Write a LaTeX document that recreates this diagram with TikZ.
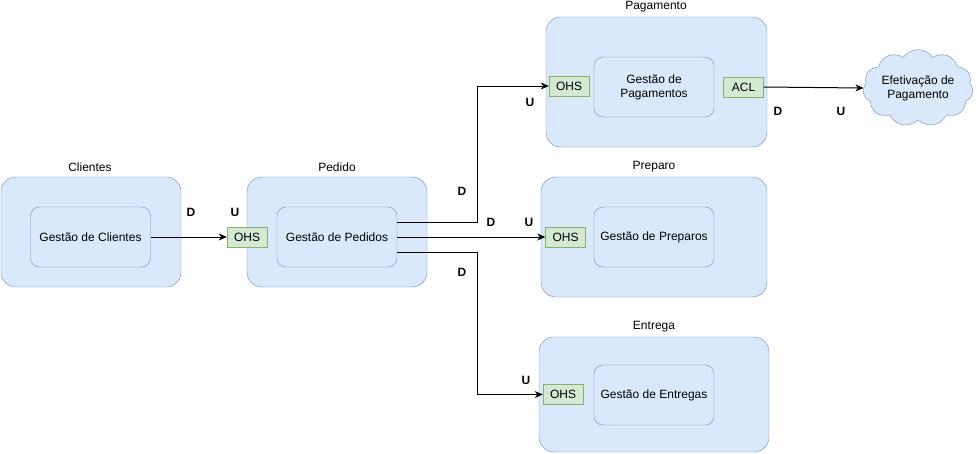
\documentclass[tikz,border=0pt]{standalone}
\usepackage{fontspec}
\setmainfont{Liberation Sans}
\usetikzlibrary{arrows.meta,shapes.symbols}
\definecolor{azulfundo}{HTML}{DAE8FC}
\definecolor{azulborda}{HTML}{6C8EBF}
\definecolor{verdefundo}{HTML}{D5E8D4}
\definecolor{verdeborda}{HTML}{82B366}
\tikzset{
	contexto/.style={draw=azulborda,fill=azulfundo,rounded corners=15pt,inner sep=0pt},
	modulo/.style={draw=azulborda,fill=azulfundo,rounded corners=9pt,inner sep=0pt,minimum width=120pt,minimum height=60pt,align=center,font=\fontsize{12}{14}\selectfont},
	padrao/.style={draw=verdeborda,fill=verdefundo,inner sep=0pt,minimum width=40pt,minimum height=20pt,font=\fontsize{12}{14}\selectfont},
	nuvem/.style={cloud,cloud puffs=11,cloud puff arc=110,aspect=1.6,draw=azulborda,fill=azulfundo,inner sep=0pt,minimum width=110pt,minimum height=70pt,align=center,font=\fontsize{12}{14}\selectfont},
	titulo/.style={font=\fontsize{12}{14}\selectfont,inner sep=0pt},
	rotulo/.style={font=\fontsize{12}{14}\selectfont\bfseries,inner sep=0pt},
	liga/.style={draw,line width=1pt,-{Stealth[length=8pt,width=7pt,inset=2.5pt]}}
}
\begin{document}
\begin{tikzpicture}[x=1pt,y=-1pt]
				\useasboundingbox (0,0) rectangle (977,453);
				\coordinate (CCli) at (91,232);
				\coordinate (CPed) at (337,232);
				\coordinate (CPag) at (656.5,82);
				\coordinate (CPre) at (654,237);
				\coordinate (CEnt) at (654,394.5);

				\node (cli) at (CCli)[contexto,minimum width=180pt,minimum height=110pt]{};
				\node (ped) at (CPed)[contexto,minimum width=180pt,minimum height=110pt]{};
				\node (pag) at (CPag)[contexto,minimum width=221pt,minimum height=130pt]{};
				\node (pre) at (CPre)[contexto,minimum width=226pt,minimum height=120pt]{};
				\node (ent) at (CEnt)[contexto,minimum width=230pt,minimum height=115pt]{};

				\node (tcli) at (90,167)[titulo]{Clientes};
				\node (tped) at (337,167)[titulo]{Pedido};
				\node (tpag) at (656,7)[titulo]{Pagamento};
				\node (tpre) at (654,167)[titulo]{Preparo};
				\node (tent) at (654,327)[titulo]{Entrega};

				\node (gcli) at (90.5,237)[modulo]{Gestão de Clientes};
				\node (gped) at (337,237)[modulo]{Gestão de Pedidos};
				\node (gpag) at (654,87)[modulo]{Gestão de\\Pagamentos};
				\node (gpre) at (654,237)[modulo]{Gestão de Preparos};
				\node (gent) at (654,395)[modulo]{Gestão de Entregas};

				\node (ohsped) at (247,237)[padrao]{OHS};
				\node (ohspag) at (569,86)[padrao]{OHS};
				\node (aclpag) at (743.5,87)[padrao]{ACL};
				\node (ohspre) at (565.5,237)[padrao]{OHS};
				\node (ohsent) at (563,394.5)[padrao]{OHS};

				\node (efet) at (918,88)[nuvem]{Efetivação de\\Pagamento};

				\draw[liga] (gcli.east)--(ohsped.west);
				\draw[liga] ([yshift=15pt]gped.east)--++(80,0)|-(ohspag.west);
				\draw[liga] (gped.east)--(ohspre.west);
				\draw[liga] ([yshift=-15pt]gped.east)--++(80,0)|-(ohsent.west);
				\draw[liga] (aclpag.east)--(efet.west);

				\node (d1) at (191,212)[rotulo]{D};
				\node (u1) at (235,212)[rotulo]{U};
				\node (d2) at (462,191)[rotulo]{D};
				\node (u2) at (530,102)[rotulo]{U};
				\node (d3) at (491,222)[rotulo]{D};
				\node (u3) at (529,222)[rotulo]{U};
				\node (d4) at (462,272)[rotulo]{D};
				\node (u4) at (526,380)[rotulo]{U};
				\node (d5) at (778,111)[rotulo]{D};
				\node (u5) at (841,111)[rotulo]{U};
			\end{tikzpicture}
\end{document}
